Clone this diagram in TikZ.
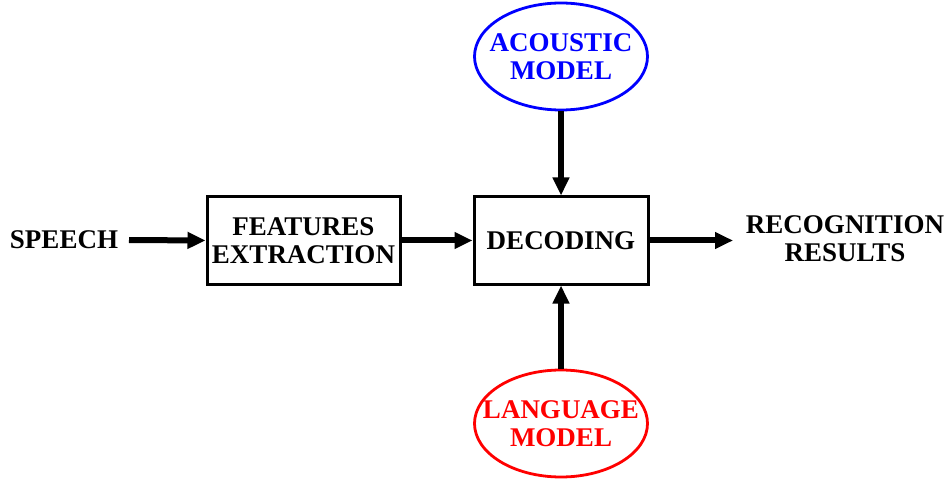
\documentclass[tikz,border=0pt]{standalone}
\usepackage{fontspec}
\setmainfont{Liberation Serif}[BoldFont={Liberation Serif Bold}]
\usetikzlibrary{arrows.meta,shapes.geometric}
\begin{document}
\begin{tikzpicture}[x=1pt,y=-1pt,
  txt/.style={font=\rmfamily\bfseries\fontsize{27}{28}\selectfont, align=center, inner sep=0pt},
  blk/.style={draw, line width=3pt, minimum width=193pt, minimum height=87pt, txt},
  dblk/.style={draw, line width=3pt, minimum width=174pt, minimum height=87pt, txt},
  mdl/.style={ellipse, line width=2.8pt, minimum width=173pt, minimum height=107pt, inner sep=0pt},
  arr/.style={line width=6pt, -{Triangle[length=18pt,width=16pt]}}]
\useasboundingbox (0,0) rectangle (948,481);
\node[txt] (speech) at (64,240) {SPEECH};
\node[blk] (fe) at (303.5,240.5) {FEATURES\\EXTRACTION};
\node[dblk] (dec) at (561,240.5) {DECODING};
\node[mdl, draw=blue] (am) at (561,56.5) {};
\node[txt, text=blue] (amt) at (am.center) {ACOUSTIC\\MODEL};
\node[mdl, draw=red] (lm) at (561,423.5) {};
\node[txt, text=red] (lmt) at (lm.center) {LANGUAGE\\MODEL};
\node[txt] (res) at (845,239) {RECOGNITION\\RESULTS};
\draw[arr] (129,240) -- (fe.west);
\draw[arr] (fe) -- (dec);
\draw[arr] (dec.east) -- (733,240.5);
\draw[arr] (am) -- (dec);
\draw[arr] (lm) -- (dec);
\end{tikzpicture}
\end{document}
